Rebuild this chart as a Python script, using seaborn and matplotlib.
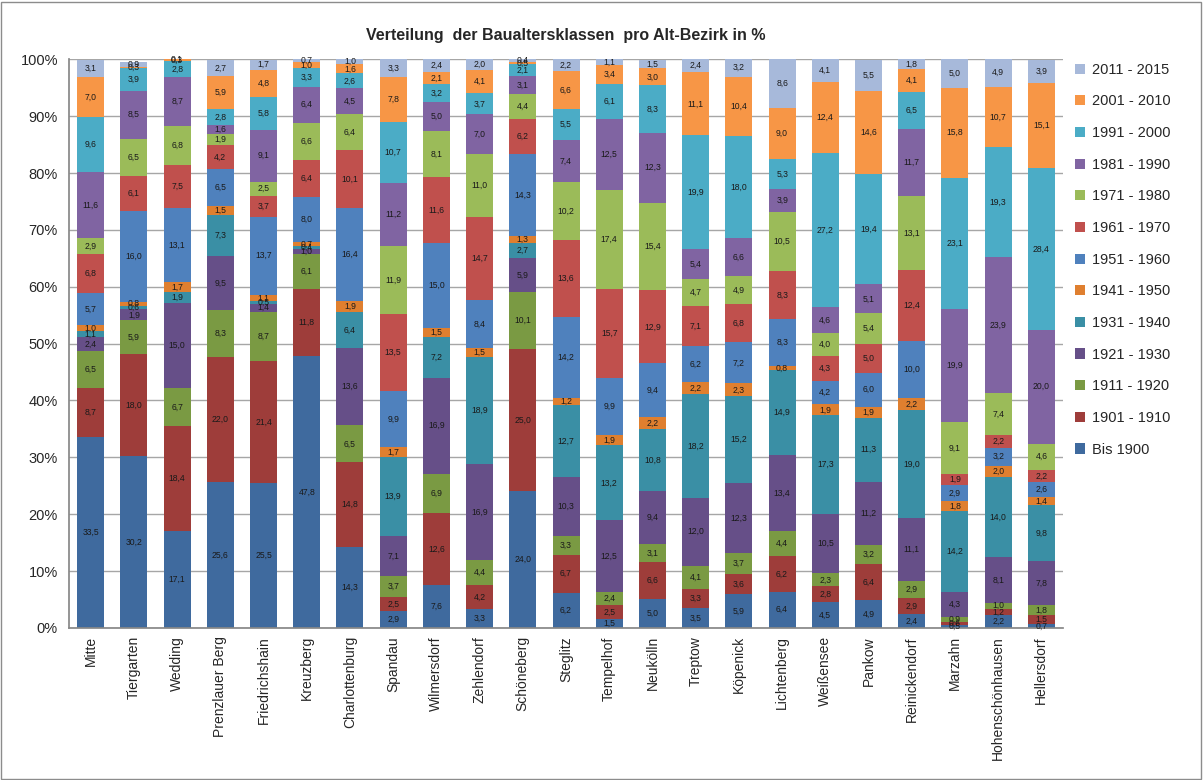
import pandas as pd
import seaborn as sns
import matplotlib.pyplot as plt
from matplotlib.patches import Rectangle

# Bezirke (x-Achse)
bezirke = ["Mitte", "Tiergarten", "Wedding", "Prenzlauer Berg", "Friedrichshain",
           "Kreuzberg", "Charlottenburg", "Spandau", "Wilmersdorf", "Zehlendorf",
           "Schöneberg", "Steglitz", "Tempelhof", "Neukölln", "Treptow", "Köpenick",
           "Lichtenberg", "Weißensee", "Pankow", "Reinickendorf", "Marzahn",
           "Hohenschönhausen", "Hellersdorf"]

# Baualtersklassen von unten nach oben
klassen = ["Bis 1900", "1901 - 1910", "1911 - 1920", "1921 - 1930", "1931 - 1940",
           "1941 - 1950", "1951 - 1960", "1961 - 1970", "1971 - 1980", "1981 - 1990",
           "1991 - 2000", "2001 - 2010", "2011 - 2015"]

farben = ["#3F6A9E", "#9E3D3A", "#7A9A43", "#664F88", "#3A8FA5", "#DF7F2F",
          "#4F81BD", "#C0504D", "#9BBB59", "#8064A2", "#4BACC6", "#F79646", "#A7B9DA"]

# Anteile in % je Bezirk (Reihenfolge wie klassen)
mitte = [33.5, 8.7, 6.5, 2.4, 1.1, 1.0, 5.7, 6.8, 2.9, 11.6, 9.6, 7.0, 3.1]
tiergarten = [30.2, 18.0, 5.9, 1.9, 0.6, 0.8, 16.0, 6.1, 6.5, 8.5, 3.9, 0.3, 0.9]
wedding = [17.1, 18.4, 6.7, 15.0, 1.9, 1.7, 13.1, 7.5, 6.8, 8.7, 2.8, 0.3, 0.1]
prenzlauer_berg = [25.6, 22.0, 8.3, 9.5, 7.3, 1.5, 6.5, 4.2, 1.9, 1.6, 2.8, 5.9, 2.7]
friedrichshain = [25.5, 21.4, 8.7, 1.4, 0.5, 1.1, 13.7, 3.7, 2.5, 9.1, 5.8, 4.8, 1.7]
kreuzberg = [47.8, 11.8, 6.1, 1.0, 0.4, 0.7, 8.0, 6.4, 6.6, 6.4, 3.3, 1.0, 0.7]
charlottenburg = [14.3, 14.8, 6.5, 13.6, 6.4, 1.9, 16.4, 10.1, 6.4, 4.5, 2.6, 1.6, 1.0]
spandau = [2.9, 2.5, 3.7, 7.1, 13.9, 1.7, 9.9, 13.5, 11.9, 11.2, 10.7, 7.8, 3.3]
wilmersdorf = [7.6, 12.6, 6.9, 16.9, 7.2, 1.5, 15.0, 11.6, 8.1, 5.0, 3.2, 2.1, 2.4]
zehlendorf = [3.3, 4.2, 4.4, 16.9, 18.9, 1.5, 8.4, 14.7, 11.0, 7.0, 3.7, 4.1, 2.0]
schoeneberg = [24.0, 25.0, 10.1, 5.9, 2.7, 1.3, 14.3, 6.2, 4.4, 3.1, 2.1, 0.5, 0.4]
steglitz = [6.2, 6.7, 3.3, 10.3, 12.7, 1.2, 14.2, 13.6, 10.2, 7.4, 5.5, 6.6, 2.2]
tempelhof = [1.5, 2.5, 2.4, 12.5, 13.2, 1.9, 9.9, 15.7, 17.4, 12.5, 6.1, 3.4, 1.1]
neukoelln = [5.0, 6.6, 3.1, 9.4, 10.8, 2.2, 9.4, 12.9, 15.4, 12.3, 8.3, 3.0, 1.5]
treptow = [3.5, 3.3, 4.1, 12.0, 18.2, 2.2, 6.2, 7.1, 4.7, 5.4, 19.9, 11.1, 2.4]
koepenick = [5.9, 3.6, 3.7, 12.3, 15.2, 2.3, 7.2, 6.8, 4.9, 6.6, 18.0, 10.4, 3.2]
lichtenberg = [6.4, 6.2, 4.4, 13.4, 14.9, 0.8, 8.3, 8.3, 10.5, 3.9, 5.3, 9.0, 8.6]
weissensee = [4.5, 2.8, 2.3, 10.5, 17.3, 1.9, 4.2, 4.3, 4.0, 4.6, 27.2, 12.4, 4.1]
pankow = [4.9, 6.4, 3.2, 11.2, 11.3, 1.9, 6.0, 5.0, 5.4, 5.1, 19.4, 14.6, 5.5]
reinickendorf = [2.4, 2.9, 2.9, 11.1, 19.0, 2.2, 10.0, 12.4, 13.1, 11.7, 6.5, 4.1, 1.8]
marzahn = [0.5, 0.6, 0.9, 4.3, 14.2, 1.8, 2.9, 1.9, 9.1, 19.9, 23.1, 15.8, 5.0]
hohenschoenhausen = [2.2, 1.2, 1.0, 8.1, 14.0, 2.0, 3.2, 2.2, 7.4, 23.9, 19.3, 10.7, 4.9]
hellersdorf = [0.7, 1.5, 1.8, 7.8, 9.8, 1.4, 2.6, 2.2, 4.6, 20.0, 28.4, 15.1, 3.9]

werte = [mitte, tiergarten, wedding, prenzlauer_berg, friedrichshain, kreuzberg,
         charlottenburg, spandau, wilmersdorf, zehlendorf, schoeneberg, steglitz,
         tempelhof, neukoelln, treptow, koepenick, lichtenberg, weissensee, pankow,
         reinickendorf, marzahn, hohenschoenhausen, hellersdorf]

# Long-Format fuer seaborn
rows = []
for bez, vals in zip(bezirke, werte):
    for kl, v in zip(klassen, vals):
        rows.append({"Bezirk": bez, "Klasse": kl, "Anteil": v})
df = pd.DataFrame(rows)

sns.set_theme(style="white")
plt.rcParams["font.family"] = ["Liberation Sans", "DejaVu Sans"]

fig = plt.figure(figsize=(12.03, 7.8), dpi=100)
ax = fig.add_axes([0.0574, 0.195, 0.8262, 0.729])

sns.histplot(data=df, x="Bezirk", weights="Anteil", hue="Klasse",
             hue_order=klassen[::-1], palette=dict(zip(klassen, farben)),
             multiple="stack", discrete=True, shrink=0.625, alpha=1,
             linewidth=0, ax=ax)

# Werte in die Segmente schreiben
for i, vals in enumerate(werte):
    unten = 0
    for v in vals:
        ax.text(i, unten + v / 2, f"{v:.1f}".replace(".", ","), ha="center",
                va="center", fontsize=6.2, color="#1a1a1a")
        unten += v

ax.set_xlim(-0.5, len(bezirke) - 0.5)
ax.set_ylim(0, 100)
ax.set_yticks(range(0, 101, 10))
ax.set_yticklabels([f"{t}%" for t in range(0, 101, 10)], fontsize=10.5)
ax.set_xticks(range(len(bezirke)))
ax.set_xticklabels(bezirke, rotation=90, fontsize=10)
ax.set_xlabel("")
ax.set_ylabel("")
ax.yaxis.grid(True, color="#A6A6A6", linewidth=1)
ax.set_axisbelow(True)
for s in ["top", "right"]:
    ax.spines[s].set_visible(False)
for s in ["left", "bottom"]:
    ax.spines[s].set_color("#888888")
ax.tick_params(axis="y", length=4, color="#888888", pad=4)
ax.tick_params(axis="x", length=0, pad=6)

ax.set_title("Verteilung  der Baualtersklassen  pro Alt-Bezirk in %",
             fontsize=11.5, fontweight="bold", pad=14)

sns.move_legend(ax, "upper left", bbox_to_anchor=(1.006, 1.004), title=None,
                frameon=False, fontsize=10.5, labelspacing=1.21,
                handlelength=0.7, handleheight=0.7, handletextpad=0.5,
                borderaxespad=0)

fig.add_artist(Rectangle((0.001, 0.001), 0.997, 0.997, transform=fig.transFigure,
                         fill=False, edgecolor="#8C8C8C", linewidth=1))

fig.savefig("out.png", dpi=100)
